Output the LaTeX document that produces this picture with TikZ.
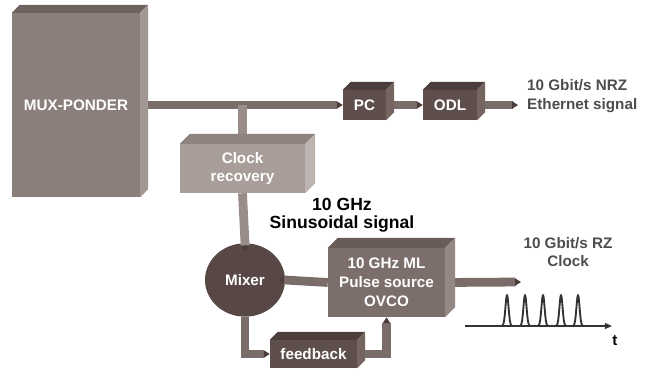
\documentclass[tikz,border=0pt]{standalone}
\usepackage{fontspec}
\setmainfont{Liberation Sans}
\usetikzlibrary{shapes.geometric, arrows.meta, positioning, calc, backgrounds}
\definecolor{muxfront}{HTML}{8B7F7B}
\definecolor{muxtop}{HTML}{6E6260}
\definecolor{muxside}{HTML}{A39793}
\definecolor{crfront}{HTML}{A99D99}
\definecolor{crtop}{HTML}{8F8380}
\definecolor{crside}{HTML}{BDB3B0}
\definecolor{dkfront}{HTML}{5E4F4C}
\definecolor{dktop}{HTML}{4B3E3C}
\definecolor{dkside}{HTML}{746561}
\definecolor{midfront}{HTML}{7C6E6A}
\definecolor{midtop}{HTML}{685B58}
\definecolor{midside}{HTML}{958985}
\definecolor{mixcol}{HTML}{574846}
\definecolor{barcol}{HTML}{7A6D69}
\definecolor{vbarcol}{HTML}{9A8D89}
\definecolor{headcol}{HTML}{4A3D3A}
\definecolor{lblgray}{HTML}{4D4D4D}
% top and side face of a block: name, depth, top colour, side colour
\newcommand{\boxfaces}[4]{%
  \fill[#3] (#1.north west) -- ++(#2,-#2) -- ($(#1.north east)+(#2,-#2)$) -- (#1.north east) -- cycle;
  \fill[#4] (#1.north east) -- ++(#2,-#2) -- ($(#1.south east)+(#2,-#2)$) -- (#1.south east) -- cycle;}

\begin{document}
\begin{tikzpicture}[
    x=0.03cm, y=-0.03cm,
    blk/.style={rectangle, inner sep=0pt, text=white, align=center,
        font=\fontsize{13}{16}\selectfont\bfseries},
    bar/.style={draw=barcol, line width=7.5pt,
        -{Triangle[length=5pt,width=6pt,color=headcol]}},
    vbar/.style={bar, draw=vbarcol},
    lbl/.style={font=\fontsize{13}{16}\selectfont\bfseries, text=lblgray, inner sep=0pt},
    pulse/.style={draw=black!80, line width=1.6pt, line join=round},
    axis/.style={draw=black!80, line width=1.2pt, -{Triangle[length=6pt,width=5pt]}}
]
\useasboundingbox (0,0) rectangle (651,371);

\node[blk, fill=muxfront, minimum width=3.84cm, minimum height=5.52cm] (mux) at (76,105) {MUX-PONDER};
\node[blk, fill=dkfront, minimum width=1.29cm, minimum height=0.9cm] (pc) at (364.5,105) {PC};
\node[blk, fill=dkfront, minimum width=1.62cm, minimum height=0.9cm] (odl) at (450,105) {ODL};
\node[blk, fill=crfront, minimum width=3.75cm, minimum height=1.47cm] (clock) at (242.5,168.5) {Clock\\recovery};
\node[blk, ellipse, fill=mixcol, minimum width=2.4cm, minimum height=2.2cm] (mixer) at (245,280) {Mixer};
\node[blk, fill=midfront, minimum width=3.51cm, minimum height=2.07cm] (ovco) at (386.5,282.5) {10 GHz ML\\Pulse source\\OVCO};
\node[blk, fill=dkfront, minimum width=2.61cm, minimum height=0.84cm] (fb) at (313.5,354) {feedback};

\boxfaces{mux}{8}{muxtop}{muxside}
\boxfaces{pc}{8}{dktop}{dkside}
\boxfaces{odl}{8}{dktop}{dkside}
\boxfaces{clock}{10}{crtop}{crside}
\boxfaces{ovco}{10}{midtop}{midside}
\boxfaces{fb}{8}{dktop}{dkside}

\coordinate (nrzend) at (518,105);
\coordinate (rzend) at (521,282);

\begin{pgfonlayer}{background}
\draw[bar] (mux.east) -- (pc.west);
\draw[bar] (pc.east) -- (odl.west);
\draw[bar] (odl.east) -- (nrzend);
\draw[vbar] (clock.north |- mux.east) -- (clock.north);
\draw[bar] (ovco.east) -- (rzend);
\draw[bar] (mixer.south) |- (fb.west);
\draw[bar] (fb.east) -| (ovco.south);
\end{pgfonlayer}
% these two end on the mixer
\draw[vbar, shorten >=-7pt] (clock.south) -- (mixer.north);
\draw[bar, shorten >=-6pt] (ovco.west) -- (mixer.east);

\node[lbl, anchor=west, align=left] (nrz) at (527,96) {10 Gbit/s NRZ\\Ethernet signal};
\node[lbl, text=black, align=center, font=\fontsize{15}{15}\selectfont\bfseries] (sine) at (342,215) {10 GHz\\Sinusoidal signal};
\node[lbl, align=center] (rz) at (568,252) {10 Gbit/s RZ\\Clock};

% clock pulses
\coordinate (t0) at (465,326);
\coordinate (t1) at (612,326);
\draw[axis] (t0) -- (t1);
\foreach \p in {507,525,543,561,578}
  \draw[pulse] plot[domain=-5:5, samples=21, smooth] ({\p+\x}, {326-31*exp(-(\x/2.2)^2)});
\node[lbl, text=black] (tlbl) at (615,341) {t};
\end{tikzpicture}
\end{document}
